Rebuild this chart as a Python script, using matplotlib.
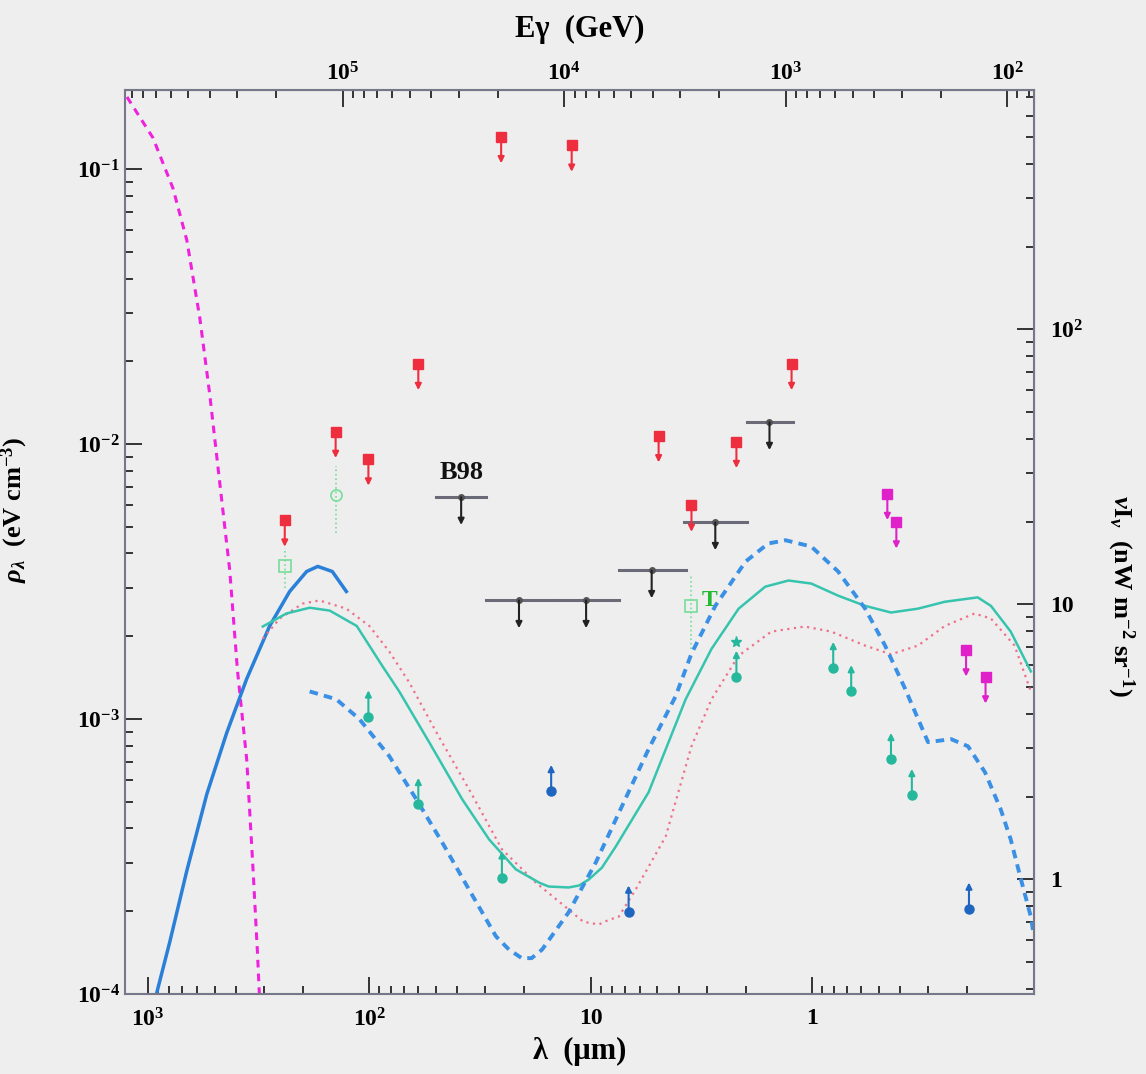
import numpy as np
import matplotlib.pyplot as plt
from matplotlib.ticker import FuncFormatter, NullFormatter, FixedLocator

plt.rcParams['font.family'] = 'Liberation Serif'
plt.rcParams['font.weight'] = 'bold'
plt.rcParams['axes.labelweight'] = 'bold'
plt.rcParams['mathtext.fontset'] = 'custom'
plt.rcParams['mathtext.rm'] = 'Liberation Serif:bold'
plt.rcParams['mathtext.it'] = 'Liberation Serif:italic:bold'
plt.rcParams['mathtext.bf'] = 'Liberation Serif:bold'

RHO_TO_NUINU = 3830.0   # nW m^-2 sr^-1 per eV cm^-3
GEV_PER_UM = 760.0      # gamma energy scale on top axis

# --- curves (lambda in um, rho in eV cm^-3)
cmb_lam = [1243, 949, 771, 667, 583, 526, 474, 427, 394, 358, 337, 320, 313]
cmb_rho = [0.183, 0.130, 0.0853, 0.0551, 0.0288, 0.0152, 7.26e-3, 3.47e-3,
           1.50e-3, 7.14e-4, 3.08e-4, 1.41e-4, 9.5e-5]

firas_lam = [930, 796, 667, 542, 441, 358, 282, 229, 192, 171, 147, 127]
firas_rho = [9.5e-5, 1.55e-4, 2.81e-4, 5.33e-4, 8.89e-4, 1.40e-3, 2.18e-3,
             2.91e-3, 3.44e-3, 3.59e-3, 3.44e-3, 2.91e-3]

teal_curve_lam = [303, 237, 186, 151, 114, 87.4, 73.3, 53.7, 38.1, 28.8, 21.8,
                  17.1, 15.5, 12.6, 11.3, 10.2, 8.91, 7.71, 5.48, 3.73, 2.85,
                  2.15, 1.63, 1.28, 1.01, 0.764, 0.577, 0.441, 0.333, 0.252,
                  0.179, 0.156, 0.127, 0.103]
teal_curve_rho = [2.17e-3, 2.42e-3, 2.54e-3, 2.48e-3, 2.18e-3, 1.56e-3, 1.26e-3,
                  8.24e-4, 5.11e-4, 3.65e-4, 2.84e-4, 2.54e-4, 2.46e-4, 2.44e-4,
                  2.48e-4, 2.61e-4, 2.88e-4, 3.44e-4, 5.42e-4, 1.18e-3, 1.80e-3,
                  2.52e-3, 3.03e-3, 3.19e-3, 3.11e-3, 2.81e-3, 2.58e-3, 2.44e-3,
                  2.52e-3, 2.67e-3, 2.77e-3, 2.58e-3, 2.08e-3, 1.49e-3]

pink_curve_lam = [303, 254, 200, 168, 127, 100, 81.3, 66.1, 49.9, 35.5, 25.2,
                  17.7, 12.6, 10.8, 9.20, 8.30, 7.48, 6.27, 4.59, 3.51, 2.85,
                  2.15, 1.53, 1.08, 0.821, 0.577, 0.441, 0.333, 0.252, 0.185,
                  0.156, 0.122, 0.103]
pink_curve_rho = [1.96e-3, 2.32e-3, 2.63e-3, 2.70e-3, 2.52e-3, 2.18e-3, 1.76e-3,
                  1.36e-3, 8.97e-4, 5.56e-4, 3.36e-4, 2.54e-4, 2.03e-4, 1.83e-4,
                  1.79e-4, 1.86e-4, 1.91e-4, 2.40e-4, 3.74e-4, 7.96e-4, 1.18e-3,
                  1.70e-3, 2.08e-3, 2.17e-3, 2.08e-3, 1.85e-3, 1.72e-3, 1.85e-3,
                  2.18e-3, 2.42e-3, 2.32e-3, 1.85e-3, 1.26e-3]

blue_curve_lam = [186, 141, 111, 81.3, 61.4, 46.9, 35.5, 26.8, 23.4, 20.5, 18.5,
                  16.6, 12.6, 9.49, 7.24, 5.48, 4.14, 3.51, 2.74, 2.00, 1.58,
                  1.32, 1.01, 0.764, 0.577, 0.469, 0.381, 0.300, 0.236, 0.198,
                  0.166, 0.141, 0.127, 0.115, 0.103, 0.100]
blue_curve_rho = [1.26e-3, 1.18e-3, 1.00e-3, 7.33e-4, 5.11e-4, 3.56e-4, 2.40e-4,
                  1.62e-4, 1.45e-4, 1.35e-4, 1.35e-4, 1.45e-4, 1.98e-4, 3.01e-4,
                  4.81e-4, 7.78e-4, 1.21e-3, 1.73e-3, 2.58e-3, 3.74e-3, 4.35e-3,
                  4.47e-3, 4.24e-3, 3.44e-3, 2.52e-3, 1.85e-3, 1.29e-3, 8.24e-4,
                  8.45e-4, 7.96e-4, 6.41e-4, 4.70e-4, 3.65e-4, 2.67e-4, 1.91e-4,
                  1.64e-4]

# --- upper limits
red_lam = [25.4, 12.2, 60.1, 142, 101, 241, 4.94, 2.20, 1.24, 3.51]
red_rho = [0.131, 0.122, 0.0196, 0.0111, 8.81e-3, 5.28e-3, 0.0107, 0.0102,
           0.0196, 5.98e-3]

mag_lam = [0.458, 0.417, 0.202, 0.165]
mag_rho = [6.6e-3, 5.2e-3, 1.78e-3, 1.42e-3]

bar_lo = [49.9, 29.7, 15.0, 7.48, 3.78, 1.98]
bar_hi = [29.7, 15.0, 7.48, 3.73, 1.98, 1.22]
bar_mid = [38.5, 21.1, 10.5, 5.31, 2.74, 1.56]
bar_rho = [6.41e-3, 2.70e-3, 2.70e-3, 3.47e-3, 5.19e-3, 0.0120]

# --- lower limits
teal_lam = [101, 60.1, 25.2, 2.20, 0.804, 0.667, 0.441, 0.355]
teal_rho = [1.02e-3, 4.90e-4, 2.65e-4, 1.42e-3, 1.53e-3, 1.26e-3, 7.14e-4, 5.28e-4]

blue_lam = [15.1, 6.75, 0.196]
blue_rho = [5.46e-4, 1.99e-4, 2.04e-4]

# --- detections with error bars
det_lam = [141, 241, 3.51]
det_rho = [6.52e-3, 3.59e-3, 2.58e-3]
det_lo = [4.73e-3, 3.0e-3, 1.80e-3]
det_hi = [8.31e-3, 4.2e-3, 3.38e-3]
det_marker = ['o', 's', 's']

star_lam = [2.20]
star_rho = [1.91e-3]

# tick values shown with labels
lam_ticks = [1e3, 1e2, 10, 1]
rho_ticks = [1e-4, 1e-3, 1e-2, 1e-1]
egev_ticks = [1e2, 1e3, 1e4, 1e5]
nuinu_ticks = [1, 10, 100]

bg = '#eeeeee'
fig = plt.figure(figsize=(11.46, 10.74), dpi=100, facecolor=bg)
ax = fig.add_axes([0.109, 0.0745, 0.793, 0.8417], facecolor=bg)
ax.set_xscale('log')
ax.set_yscale('log')
ax.set_xlim(1270, 0.1)
ax.set_ylim(1e-4, 0.194)

lkw = dict(solid_joinstyle='round', dash_joinstyle='round')
ax.plot(cmb_lam, cmb_rho, color='#ee22dd', lw=2.2, ls=(0, (2.5, 2)), **lkw)
ax.plot(firas_lam, firas_rho, color='#2a80d8', lw=2.5, **lkw)
ax.plot(pink_curve_lam, pink_curve_rho, color='#f0708a', lw=1.6, ls=(0, (1, 2)), **lkw)
ax.plot(teal_curve_lam, teal_curve_rho, color='#36c4ae', lw=1.8, **lkw)
ax.plot(blue_curve_lam, blue_curve_rho, color='#3a90e4', lw=2.8, ls=(0, (2.2, 1.6)), **lkw)


def limit_arrows(lams, rhos, color, direction, marker, length=19):
    for l, r in zip(lams, rhos):
        ax.annotate('', xy=(l, r), xycoords='data',
                    xytext=(0, direction * length), textcoords='offset points',
                    arrowprops=dict(arrowstyle='<|-', color=color, lw=1.5,
                                    shrinkA=0, shrinkB=0, mutation_scale=9))
    if marker is not None:
        ax.plot(lams, rhos, ls='none', marker=marker, ms=6.5, color=color, zorder=5)


limit_arrows(red_lam, red_rho, '#ee2d3e', -1, 's')
limit_arrows(mag_lam, mag_rho, '#e020c8', -1, 's')
limit_arrows(teal_lam, teal_rho, '#25b89c', 1, 'o')
limit_arrows(blue_lam, blue_rho, '#1f66c0', 1, 'o')

# B98 bars
for lo, hi, mid, r in zip(bar_lo, bar_hi, bar_mid, bar_rho):
    ax.plot([lo, hi], [r, r], color='#6a6a78', lw=2.2)
    ax.plot([mid], [r], marker='o', ms=4, color='#555555')
limit_arrows(bar_mid, bar_rho, '#222222', -1, None, length=20)
ax.text(bar_mid[0], bar_rho[0] * 1.12, 'B98', ha='center', va='bottom',
        fontsize=19, fontweight='bold', color='#111111')

# detections
for l, r, lo, hi, m in zip(det_lam, det_rho, det_lo, det_hi, det_marker):
    ax.plot([l, l], [lo, hi], color='#77dd99', lw=1.2, ls=':')
    ax.plot([l], [r], marker=m, ms=8, mfc='none', mec='#77dd99', mew=1.2)
ax.plot(star_lam, star_rho, ls='none', marker='*', ms=8, color='#25b89c')
ax.text(det_lam[2] * 0.83, det_rho[2] * 1.05, 'T', fontsize=17, fontweight='bold',
        color='#22bb33', ha='center', va='center')


def fmt(v, pos):
    e = int(round(np.log10(v)))
    if e == 0:
        return '1'
    if e == 1:
        return '10'
    return r'$\mathbf{10^{%d}}$' % e


spine_c = '#77778a'
for s in ax.spines.values():
    s.set_color(spine_c)
    s.set_linewidth(1.5)

ax.tick_params(which='both', direction='in', color='#333333', labelsize=17,
               top=False, right=False, width=1.4)
ax.tick_params(which='major', length=12)
ax.tick_params(which='minor', length=6)
ax.tick_params(axis='x', pad=10)
ax.xaxis.set_major_locator(FixedLocator(lam_ticks))
ax.yaxis.set_major_locator(FixedLocator(rho_ticks))
ax.xaxis.set_major_formatter(FuncFormatter(fmt))
ax.yaxis.set_major_formatter(FuncFormatter(fmt))
ax.xaxis.set_minor_formatter(NullFormatter())
ax.yaxis.set_minor_formatter(NullFormatter())

ax.set_xlabel('λ  (μm)', fontsize=22, fontweight='bold', labelpad=4)
ax.set_ylabel(r'$\rho_\lambda$  (eV cm$^{-3}$)', fontsize=19, fontweight='bold')
ax.yaxis.set_label_coords(0.026, 0.525, transform=fig.transFigure)

top = ax.secondary_xaxis('top', functions=(lambda l: l * GEV_PER_UM,
                                           lambda e: e / GEV_PER_UM))
top.xaxis.set_major_locator(FixedLocator(egev_ticks))
top.tick_params(which='both', direction='in', color='#333333', labelsize=17, width=1.4)
top.tick_params(which='major', length=12)
top.tick_params(which='minor', length=6)
top.xaxis.set_major_formatter(FuncFormatter(fmt))
top.xaxis.set_minor_formatter(NullFormatter())
top.set_xlabel('Eγ  (GeV)', fontsize=22, fontweight='bold', labelpad=18)
top.spines['top'].set_color(spine_c)

right = ax.secondary_yaxis('right', functions=(lambda r: r * RHO_TO_NUINU,
                                               lambda v: v / RHO_TO_NUINU))
right.yaxis.set_major_locator(FixedLocator(nuinu_ticks))
right.tick_params(which='both', direction='in', color='#333333', labelsize=17,
                  width=1.4, pad=12)
right.tick_params(which='major', length=12)
right.tick_params(which='minor', length=6)
right.yaxis.set_major_formatter(FuncFormatter(fmt))
right.yaxis.set_minor_formatter(NullFormatter())
right.set_ylabel(r'$\nu$I$_\nu$  (nW m$^{-2}$ sr$^{-1}$)', fontsize=19,
                 fontweight='bold', rotation=270, va='center')
right.yaxis.set_label_coords(0.978, 0.445, transform=fig.transFigure)
right.spines['right'].set_color(spine_c)

fig.savefig('out.png', dpi=100, facecolor=bg)
